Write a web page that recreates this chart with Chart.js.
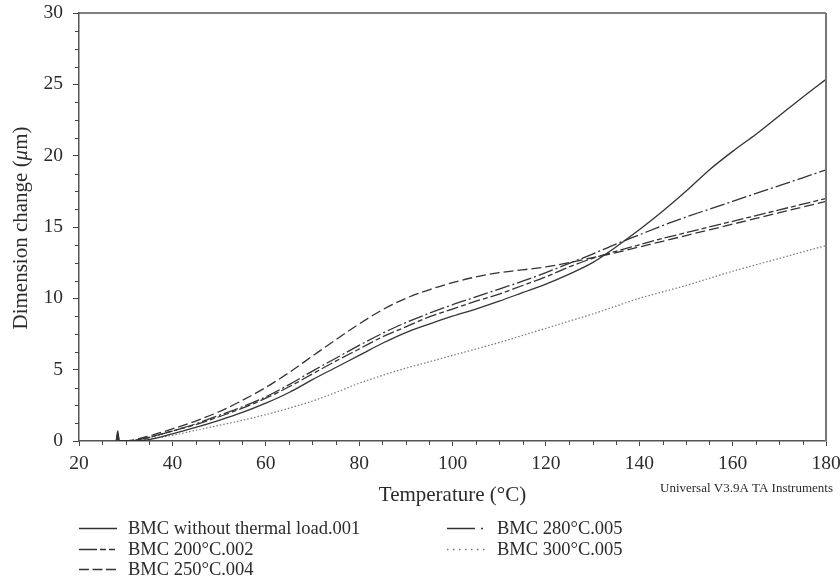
<!DOCTYPE html>
<html>
<head>
<meta charset="utf-8">
<script src="https://cdn.jsdelivr.net/npm/chart.js@4.4.1/dist/chart.umd.min.js"></script>
<style>
  html, body { margin: 0; padding: 0; background: #fff; }
  #wrap { width: 840px; height: 582px; }
</style>
</head>
<body>
<div id="wrap"><canvas id="tma" width="840" height="582"></canvas></div>
<script>
// Temperature readings (°C) shared by all runs
const temps = [28, 28.3, 28.6, 29.5, 32, 35, 40, 45, 50, 55, 60, 65, 70, 75, 80, 85, 90, 95,
  100, 105, 110, 115, 120, 125, 130, 135, 140, 145, 150, 155, 160, 165, 170, 175, 180];

// Dimension change (µm) for each sample
const noLoad = [0.05, 0.7, 0.05, 0.0, 0.0, 0.1, 0.5, 0.95, 1.45, 2.0, 2.65, 3.4, 4.3, 5.15, 6.0, 6.85, 7.6, 8.2,
  8.75, 9.25, 9.8, 10.4, 11.0, 11.7, 12.5, 13.6, 14.8, 16.1, 17.5, 19.0, 20.3, 21.5, 22.8, 24.1, 25.35];
const bmc200 = [0.05, 0.5, 0.05, 0.0, 0.05, 0.25, 0.7, 1.15, 1.7, 2.3, 3.0, 3.8, 4.7, 5.6, 6.45, 7.3, 8.0, 8.7,
  9.25, 9.8, 10.3, 10.9, 11.5, 12.2, 12.8, 13.3, 13.75, 14.2, 14.6, 15.0, 15.4, 15.8, 16.2, 16.6, 17.0];
const bmc250 = [0.0, 0.3, 0.0, 0.0, 0.1, 0.35, 0.85, 1.4, 2.05, 2.85, 3.75, 4.8, 5.95, 7.1, 8.2, 9.2, 10.0, 10.6,
  11.1, 11.5, 11.8, 12.0, 12.2, 12.5, 12.85, 13.2, 13.6, 14.0, 14.4, 14.8, 15.2, 15.6, 16.0, 16.4, 16.8];
const bmc280 = [0.0, 0.2, 0.0, 0.0, 0.05, 0.25, 0.7, 1.2, 1.8, 2.4, 3.1, 3.95, 4.9, 5.8, 6.7, 7.55, 8.3, 8.95,
  9.55, 10.1, 10.65, 11.2, 11.8, 12.45, 13.1, 13.8, 14.45, 15.1, 15.7, 16.25, 16.8, 17.35, 17.9, 18.45, 19.0];
const bmc300 = [0.0, 0.0, 0.0, 0.0, 0.0, 0.15, 0.4, 0.75, 1.1, 1.45, 1.85, 2.3, 2.8, 3.4, 4.05, 4.6, 5.1, 5.55,
  6.0, 6.45, 6.9, 7.4, 7.9, 8.4, 8.9, 9.45, 10.0, 10.45, 10.9, 11.4, 11.9, 12.35, 12.8, 13.25, 13.7];

const seriesLabels = ['BMC without thermal load.001', 'BMC 200°C.002', 'BMC 250°C.004',
  'BMC 280°C.005', 'BMC 300°C.005'];

// Axis ranges and labelled tick steps
const xRange = [20, 180];
const yRange = [0, 30];
const xStep = 20;
const yStep = 5;

const FONT = "'Liberation Serif', 'DejaVu Serif', serif";
const INK = '#2b2b2b';

const toPoints = vals => temps.map((t, i) => ({ x: t, y: vals[i] }));

const lineStyles = [
  { color: '#333', width: 1.3, dash: [], legendDash: [] },
  { color: '#333', width: 1.3, dash: [12, 3, 5, 3], legendDash: [18, 3, 6, 3, 6, 20] },
  { color: '#333', width: 1.3, dash: [10, 4], legendDash: [10, 3.5, 10, 3.5, 10, 20] },
  { color: '#333', width: 1.3, dash: [15, 3, 2, 3], legendDash: [28, 6, 2, 20] },
  { color: '#777', width: 1.2, dash: [1.5, 2], legendDash: [1.5, 4.5] }
];

const seriesValues = [noLoad, bmc200, bmc250, bmc280, bmc300];

const datasets = seriesValues.map((vals, i) => ({
  label: seriesLabels[i],
  data: toPoints(vals),
  borderColor: lineStyles[i].color,
  borderWidth: lineStyles[i].width,
  borderDash: lineStyles[i].dash,
  pointRadius: 0,
  fill: false,
  tension: 0,
  cubicInterpolationMode: 'monotone'
}));

// Frame, minor ticks, rotated axis title, instrument note and legend
const decorations = {
  id: 'decorations',
  afterDraw(chart) {
    const { ctx, chartArea: a, scales: { x, y } } = chart;
    ctx.save();

    // top and right edges of the plot box
    ctx.setLineDash([]);
    ctx.strokeStyle = '#555';
    ctx.lineWidth = 1.5;
    ctx.beginPath();
    ctx.moveTo(a.left, a.top);
    ctx.lineTo(a.right, a.top);
    ctx.stroke();
    ctx.strokeStyle = '#777';
    ctx.lineWidth = 2;
    ctx.beginPath();
    ctx.moveTo(a.right, a.top);
    ctx.lineTo(a.right, a.bottom);
    ctx.stroke();

    // minor ticks
    ctx.strokeStyle = '#444';
    ctx.lineWidth = 1;
    ctx.beginPath();
    for (let v = yRange[0]; v <= yRange[1]; v += 1.25) {
      if (v % yStep === 0) continue;
      const py = Math.round(y.getPixelForValue(v)) + 0.5;
      ctx.moveTo(a.left - 4, py);
      ctx.lineTo(a.left, py);
    }
    for (let v = xRange[0]; v <= xRange[1]; v += 5) {
      if (v % xStep === 0) continue;
      const px = Math.round(x.getPixelForValue(v)) + 0.5;
      ctx.moveTo(px, a.bottom);
      ctx.lineTo(px, a.bottom + 4);
    }
    ctx.stroke();

    // y-axis title with italic mu
    ctx.fillStyle = INK;
    ctx.textBaseline = 'middle';
    const parts = [
      { t: 'Dimension change (', f: `21px ${FONT}` },
      { t: 'μ', f: `italic 21px ${FONT}` },
      { t: 'm)', f: `21px ${FONT}` }
    ];
    let total = 0;
    parts.forEach(p => { ctx.font = p.f; p.w = ctx.measureText(p.t).width; total += p.w; });
    ctx.save();
    ctx.translate(21, (a.top + a.bottom) / 2 + 1);
    ctx.rotate(-Math.PI / 2);
    let cx = -total / 2;
    ctx.textAlign = 'left';
    parts.forEach(p => { ctx.font = p.f; ctx.fillText(p.t, cx, 0); cx += p.w; });
    ctx.restore();

    // instrument note
    ctx.font = `13px ${FONT}`;
    ctx.textAlign = 'right';
    ctx.fillText('Universal V3.9A TA Instruments', 833, 489);

    // legend in two columns
    const cols = [{ sx: 79, tx: 128 }, { sx: 447, tx: 497 }];
    const rows = [528, 549, 569];
    ctx.font = `18.5px ${FONT}`;
    ctx.textAlign = 'left';
    chart.data.datasets.forEach((ds, i) => {
      const col = cols[i < 3 ? 0 : 1];
      const ry = rows[i < 3 ? i : i - 3];
      ctx.save();
      ctx.strokeStyle = ds.borderColor;
      ctx.lineWidth = i === 4 ? 1.3 : 1.5;
      ctx.setLineDash(lineStyles[i].legendDash);
      ctx.beginPath();
      ctx.moveTo(col.sx, ry + 0.5);
      ctx.lineTo(col.sx + 38, ry + 0.5);
      ctx.stroke();
      ctx.restore();
      ctx.fillStyle = INK;
      ctx.fillText(ds.label, col.tx, ry + 1);
    });

    ctx.restore();
  }
};

new Chart(document.getElementById('tma'), {
  type: 'line',
  data: { datasets },
  plugins: [decorations],
  options: {
    responsive: false,
    animation: false,
    events: [],
    layout: { padding: { top: 13, right: 14, left: 0, bottom: 73 } },
    plugins: { legend: { display: false }, tooltip: { enabled: false } },
    scales: {
      x: {
        type: 'linear',
        min: xRange[0],
        max: xRange[1],
        afterFit: s => { s.height = 68; s.paddingLeft = 0; s.paddingRight = 0; },
        ticks: { stepSize: xStep, color: INK, padding: 6, font: { family: FONT, size: 19.5 } },
        grid: { drawOnChartArea: false, drawTicks: true, tickLength: 5, tickColor: '#444', tickWidth: 1 },
        border: { display: true, color: '#555', width: 1.5 },
        title: {
          display: true,
          text: 'Temperature (°C)',
          color: INK,
          font: { family: FONT, size: 21 },
          padding: { top: 0, bottom: 1 }
        }
      },
      y: {
        type: 'linear',
        min: yRange[0],
        max: yRange[1],
        afterFit: s => { s.width = 79; s.paddingTop = 0; s.paddingBottom = 0; },
        ticks: { stepSize: yStep, color: INK, padding: 10, font: { family: FONT, size: 19.5 } },
        grid: { drawOnChartArea: false, drawTicks: true, tickLength: 6, tickColor: '#444', tickWidth: 1 },
        border: { display: true, color: '#555', width: 1.5 }
      }
    }
  }
});
</script>
</body>
</html>
